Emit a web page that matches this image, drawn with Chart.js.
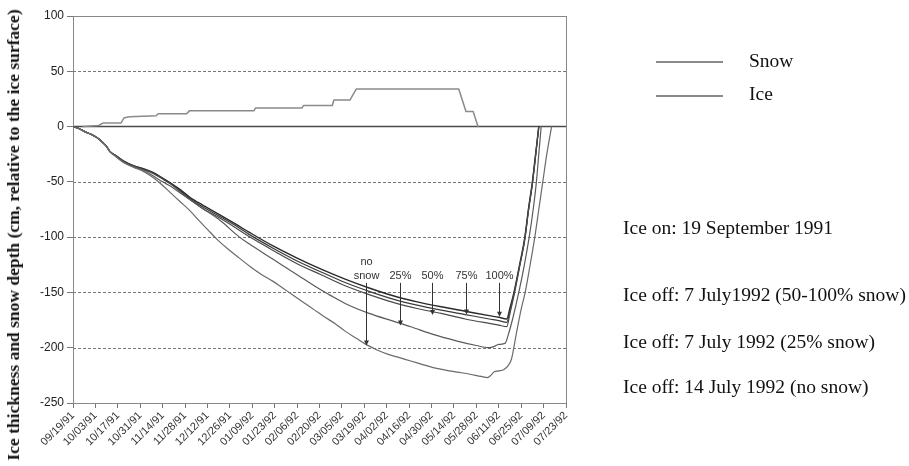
<!DOCTYPE html>
<html><head><meta charset="utf-8">
<script src="https://cdn.jsdelivr.net/npm/chart.js@4.4.0/dist/chart.umd.min.js"></script>
<style>
html,body{margin:0;padding:0;background:#fff;}
#wrap{position:relative;width:909px;height:466px;overflow:hidden;background:#fff;}
#c{position:absolute;left:0;top:0;}
.t{position:absolute;font-family:"Liberation Serif","Times New Roman",serif;font-size:19.5px;color:#111;white-space:nowrap;line-height:20px;}
.ln{position:absolute;height:2px;background:#8a8a8a;}
#ytitle{position:absolute;left:13px;top:235px;transform:translate(-50%,-50%) rotate(-90deg);font:bold 17.5px "Liberation Serif","Times New Roman",serif;white-space:nowrap;color:#111;line-height:20px;}
</style></head><body>
<div id="wrap">
<canvas id="c" width="909" height="466"></canvas>
<div id="ytitle">Ice thickness and snow depth (cm, relative to the ice surface)</div>
<div class="ln" style="left:656px;top:61px;width:67px;"></div>
<div class="t" style="left:749px;top:51px;">Snow</div>
<div class="ln" style="left:656px;top:95px;width:67px;"></div>
<div class="t" style="left:749px;top:84px;">Ice</div>
<div class="t" style="left:623px;top:218px;">Ice on: 19 September 1991</div>
<div class="t" style="left:623px;top:285px;">Ice off: 7 July1992 (50-100% snow)</div>
<div class="t" style="left:623px;top:332px;">Ice off: 7 July 1992 (25% snow)</div>
<div class="t" style="left:623px;top:377px;">Ice off: 14 July 1992 (no snow)</div>
</div>
<script>
// x = days since 19 Sep 1991 (ice on)
const xTickDays = [0,14,28,42,56,70,84,98,112,126,140,154,168,182,196,210,224,238,252,266,280,294,308];
const xTickLabels = ['09/19/91','10/03/91','10/17/91','10/31/91','11/14/91','11/28/91','12/12/91','12/26/91','01/09/92','01/23/92','02/06/92','02/20/92','03/05/92','03/19/92','04/02/92','04/16/92','04/30/92','05/14/92','05/28/92','06/11/92','06/25/92','07/09/92','07/23/92'];
const yTickValues = [-250,-200,-150,-100,-50,0,50,100];
const yTickLabels = ['-250','-200','-150','-100','-50','0','50','100'];
const yGridDashed = [-200,-150,-100,-50,50];

// Snow depth (cm)
const snowDays = [6.5,16,19,30,32,35.5,52,53,71,72.7,113,114,143,144,162,163,173,177,241,245.5,250,253];
const snowCm   = [0,1,3.3,3.3,8,8.8,9.7,11.5,11.5,14.2,14.2,16.7,16.7,19,19,24,24,34,34,13.6,13.6,0];

// Ice thickness (cm, negative downward) for each snow scenario
const ice100Days = [0,4,8,12,16,19,21,23,27,32,38,44,50,56,61,67,73,81,92,102,110,125,140,155,170,185,200,215,230,245,260,266,271,273,275.5,279,282.3,284.5,287,289,291];
const ice100 = [0,-2,-5,-7.5,-11,-15,-18,-22.5,-26.5,-31.5,-35.5,-38,-41.5,-46.5,-51,-57,-64,-71,-80,-88.5,-95.5,-108,-119,-129,-138,-146,-153,-158.5,-163,-167,-171,-172.5,-174,-164,-150,-125,-100,-75,-50,-25,0];
const ice75Days = [0,4,8,12,16,19,21,23,27,32,38,44,50,56,61,67,73,81,92,102,110,125,140,155,170,185,200,215,230,245,260,266,271,273,275.5,279,282.3,284.5,287,289,291];
const ice75 = [0,-2,-5,-7.5,-11,-15,-18,-22.5,-26.5,-31.5,-35.5,-38.5,-42,-47,-51.5,-58,-65,-72.5,-81.5,-90,-97.5,-110,-121.5,-131.5,-141,-149,-156,-161.5,-166,-170,-174,-175.5,-177,-166,-151,-126,-101,-76,-51,-26,0];
const ice50Days = [0,4,8,12,16,19,21,23,27,32,38,44,50,56,61,67,73,81,92,102,110,125,140,155,170,185,200,215,230,245,260,266,271,273,275.5,279,282.3,284.5,287,289,291];
const ice50 = [0,-2,-5,-7.5,-11,-15,-18,-22.5,-26.5,-32,-36,-39,-42.5,-47.5,-52,-59,-66,-74,-83,-92,-99.5,-112,-124,-134,-144,-152,-159,-164.5,-169,-174,-178,-179.5,-181,-169,-153,-127,-102,-77,-52,-27,0];
const ice25Days = [0,4,8,12,16,19,21,23,27,32,38,44,50,56,61,67,73,81,92,104,110,125,140,154,160,170,185,200,211,225,240,252,260,263,266,270,272,275,278.5,282,285,287.5,289.5,291,292.5];
const ice25 = [0,-2,-5,-7.5,-11,-15,-18,-22.5,-27,-32.5,-36.5,-39.5,-44.5,-50,-54,-60,-66,-74,-85,-100,-106,-120,-134,-147,-152,-160,-169,-176,-181,-188,-194,-198,-200,-199,-197,-196,-188,-172,-150,-125,-100,-75,-50,-25,0];
const iceNoDays = [0,4,8,12,16,19,21,23,27,32,38,44,50,55,61,67,73,78,84,90,97,104,111,118,125,131,138,145,151,157,164,170,177,183,190,197,204,211,218,225,232,240,248,255,259,261,263,266,269,272,274,277,280,282.5,285,288.5,291,293.5,296,299];
const iceNo = [0,-2,-5,-7.5,-11,-15,-18,-22.5,-27.5,-33,-37,-40.5,-46,-52,-60,-68,-76,-84,-93,-102,-111,-119,-127,-134,-140,-146,-153,-160,-166,-172,-178.5,-185,-191.5,-197,-202,-206,-209,-212,-215,-218,-220,-222,-224,-226,-227,-225,-222,-221,-220,-216,-210,-187,-165,-150,-130,-100,-75,-50,-25,0];

// Arrow annotations
const annoText = [['no','snow'],['25%'],['50%'],['75%'],['100%']];
const annoDay = [183,204,224.5,245.5,266];
const annoTextVal = -135;
const annoTipVal = [-198,-180,-170.5,-170,-172];

const pts = (d, v) => d.map((x, i) => ({x: x, y: v[i]}));

const framePlugin = {
  id: 'frame',
  beforeDatasetsDraw(chart) {
    const {ctx, chartArea: a, scales: {y}} = chart;
    ctx.save();
    ctx.strokeStyle = '#777'; ctx.lineWidth = 1; ctx.setLineDash([3, 2]);
    yGridDashed.forEach(v => {
      const py = Math.round(y.getPixelForValue(v)) + 0.5;
      ctx.beginPath(); ctx.moveTo(a.left, py); ctx.lineTo(a.right, py); ctx.stroke();
    });
    ctx.setLineDash([]);
    ctx.strokeStyle = '#4a4a4a'; ctx.lineWidth = 1.6;
    const z = y.getPixelForValue(0);
    ctx.beginPath(); ctx.moveTo(a.left, z); ctx.lineTo(a.right, z); ctx.stroke();
    ctx.strokeStyle = '#888'; ctx.lineWidth = 1;
    ctx.strokeRect(Math.round(a.left) + 0.5, Math.round(a.top) + 0.5, Math.round(a.right - a.left), Math.round(a.bottom - a.top));
    ctx.restore();
  }
};

const annoPlugin = {
  id: 'anno',
  afterDatasetsDraw(chart) {
    const {ctx, scales: {x, y}} = chart;
    ctx.save();
    ctx.font = '11px "Liberation Sans", Arial, sans-serif';
    ctx.fillStyle = '#333'; ctx.strokeStyle = '#333'; ctx.lineWidth = 1;
    ctx.textAlign = 'center'; ctx.textBaseline = 'middle';
    annoText.forEach((lines, i) => {
      const px = Math.round(x.getPixelForValue(annoDay[i])) + 0.5;
      const ty = y.getPixelForValue(annoTextVal);
      lines.forEach((s, k) => {
        ctx.fillText(s, px, ty - (lines.length - 1 - k) * 14);
      });
      const tip = y.getPixelForValue(annoTipVal[i]);
      ctx.beginPath(); ctx.moveTo(px, ty + 7); ctx.lineTo(px, tip - 4); ctx.stroke();
      ctx.beginPath(); ctx.moveTo(px - 2.5, tip - 5); ctx.lineTo(px + 2.5, tip - 5); ctx.lineTo(px, tip); ctx.closePath(); ctx.fill();
    });
    ctx.restore();
  }
};

const lineDs = (label, data, color, w, smooth) => ({
  label, data, borderColor: color, borderWidth: w, pointRadius: 0,
  tension: smooth ? 0.4 : 0, cubicInterpolationMode: smooth ? 'monotone' : 'default',
  fill: false, borderJoinStyle: 'round', borderCapStyle: 'round'
});

new Chart(document.getElementById('c'), {
  type: 'line',
  data: {
    datasets: [
      lineDs('Snow', pts(snowDays, snowCm), '#8a8a8a', 1.5, false),
      lineDs('no snow', pts(iceNoDays, iceNo), '#6a6a6a', 1.2, true),
      lineDs('25%', pts(ice25Days, ice25), '#5a5a5a', 1.2, true),
      lineDs('50%', pts(ice50Days, ice50), '#4a4a4a', 1.2, true),
      lineDs('75%', pts(ice75Days, ice75), '#3a3a3a', 1.2, true),
      lineDs('100%', pts(ice100Days, ice100), '#2a2a2a', 1.4, true)
    ]
  },
  options: {
    responsive: false, animation: false, devicePixelRatio: 1,
    layout: {padding: {left: 0, right: 343, top: 16, bottom: 0}},
    plugins: {legend: {display: false}, tooltip: {enabled: false}},
    scales: {
      x: {
        type: 'linear', min: 0, max: 308,
        afterBuildTicks: s => { s.ticks = xTickDays.map(v => ({value: v})); },
        afterFit: s => { s.height = 63; },
        ticks: {autoSkip: false, minRotation: 45, maxRotation: 45, padding: 1, color: '#333',
          font: {family: '"Liberation Sans", Arial, sans-serif', size: 11},
          callback: v => xTickLabels[xTickDays.indexOf(v)]},
        grid: {drawOnChartArea: false, tickLength: 5, color: '#777'},
        border: {display: false}
      },
      y: {
        type: 'linear', min: -250, max: 100,
        afterBuildTicks: s => { s.ticks = yTickValues.map(v => ({value: v})); },
        afterFit: s => { s.width = 73; },
        ticks: {padding: 3, color: '#222',
          font: {family: '"Liberation Sans", Arial, sans-serif', size: 12},
          callback: v => yTickLabels[yTickValues.indexOf(v)]},
        grid: {drawOnChartArea: false, tickLength: 6, color: '#777'},
        border: {display: false}
      }
    }
  },
  plugins: [framePlugin, annoPlugin]
});
</script>
</body></html>
